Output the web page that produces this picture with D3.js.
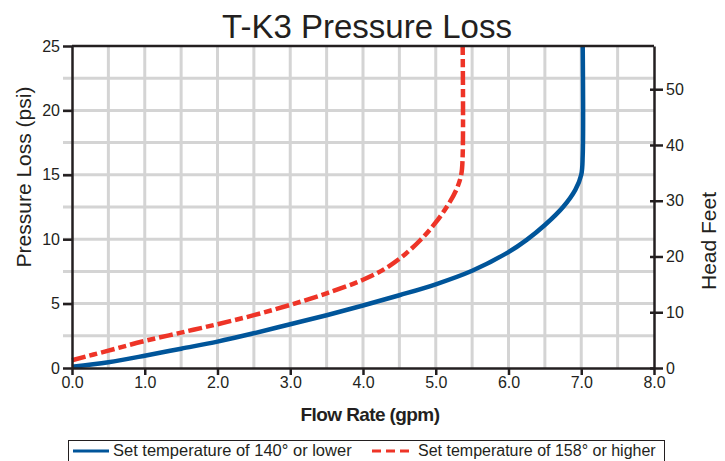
<!DOCTYPE html>
<html>
<head>
<meta charset="utf-8">
<script src="https://cdn.jsdelivr.net/npm/d3@7"></script>
<style>
  body { margin: 0; background: #fff; }
  svg { display: block; font-family: "Liberation Sans", Arial, sans-serif; }
</style>
</head>
<body>
<svg id="chart" width="725" height="461"></svg>
<script>
// flow rate (gpm) vs pressure loss (psi)
const flowBlue = [0, 0.5, 1.0, 1.5, 2.0, 2.5, 3.0, 3.5, 4.0, 4.5, 5.0, 5.5, 6.0, 6.25, 6.5, 6.75, 6.92, 7.0, 7.02, 7.02];
const psiBlue  = [0.1, 0.45, 0.95, 1.5, 2.05, 2.7, 3.4, 4.1, 4.85, 5.65, 6.5, 7.55, 9.0, 9.95, 11.1, 12.5, 13.85, 15.0, 16.5, 25];

const flowRed = [0, 0.5, 1.0, 1.5, 2.0, 2.5, 3.0, 3.5, 4.0, 4.3, 4.55, 4.8, 5.0, 5.15, 5.28, 5.35, 5.37, 5.37];
const psiRed  = [0.6, 1.35, 2.1, 2.75, 3.4, 4.1, 4.9, 5.8, 6.85, 7.7, 8.7, 10.0, 11.3, 12.5, 13.8, 15.0, 16.5, 25];

const xTicks = [0, 1, 2, 3, 4, 5, 6, 7, 8];
const psiTicks = [0, 5, 10, 15, 20, 25];
const feetTicks = [0, 10, 20, 30, 40, 50];
const FEET_PER_PSI = 2.31;

const legendLabels = ["Set temperature of 140° or lower", "Set temperature of 158° or higher"];

const blue = "#00559a", red = "#ee3427", axisColor = "#231f20", gridColor = "#d4d4d4";

const svg = d3.select("#chart");
const m = { left: 72, right: 654, top: 46, bottom: 368 };

const x = d3.scaleLinear().domain([0, 8]).range([m.left, m.right]);
const y = d3.scaleLinear().domain([0, 25]).range([m.bottom, m.top]);
const yFeet = d3.scaleLinear().domain([0, 25 * FEET_PER_PSI]).range([m.bottom, m.top]);

// grid
const grid = svg.append("g").attr("stroke", gridColor).attr("stroke-width", 3);
grid.selectAll("line.v")
  .data(d3.range(0.5, 8, 0.5))
  .enter().append("line")
  .attr("x1", d => x(d)).attr("x2", d => x(d))
  .attr("y1", m.top).attr("y2", m.bottom);
grid.selectAll("line.h")
  .data(d3.range(2.5, 25, 2.5))
  .enter().append("line")
  .attr("x1", m.left - 9).attr("x2", m.right)
  .attr("y1", d => y(d)).attr("y2", d => y(d));

// curves
const line = d3.line()
  .x(d => x(d[0]))
  .y(d => y(d[1]))
  .curve(d3.curveCatmullRom.alpha(0.5));

svg.append("path")
  .datum(flowRed.map((f, i) => [f, psiRed[i]]))
  .attr("d", line)
  .attr("fill", "none")
  .attr("stroke", red)
  .attr("stroke-width", 4.5)
  .attr("stroke-dasharray", "14,4,8,4");

svg.append("path")
  .datum(flowBlue.map((f, i) => [f, psiBlue[i]]))
  .attr("d", line)
  .attr("fill", "none")
  .attr("stroke", blue)
  .attr("stroke-width", 4.5);

// frame top
svg.append("line")
  .attr("x1", m.left).attr("x2", m.right)
  .attr("y1", m.top).attr("y2", m.top)
  .attr("stroke", axisColor).attr("stroke-width", 2.5);

function styleAxis(g) {
  g.select(".domain").attr("stroke", axisColor).attr("stroke-width", 2.5);
  g.selectAll(".tick line").attr("stroke", axisColor).attr("stroke-width", 2.5);
  g.selectAll(".tick text")
    .attr("fill", "#231f20")
    .style("font-size", "16px")
    .style("font-family", "'Liberation Sans', Arial, sans-serif");
}

// bottom axis
svg.append("g")
  .attr("transform", `translate(0,${m.bottom})`)
  .call(d3.axisBottom(x).tickValues(xTicks).tickFormat(d3.format(".1f")).tickSize(7).tickSizeOuter(0).tickPadding(2))
  .call(styleAxis);

// left axis
svg.append("g")
  .attr("transform", `translate(${m.left},0)`)
  .call(d3.axisLeft(y).tickValues(psiTicks).tickSize(9).tickSizeOuter(0).tickPadding(3))
  .call(styleAxis);

// right axis (head feet)
const right = svg.append("g")
  .attr("transform", `translate(${m.right},0)`)
  .call(d3.axisRight(yFeet).tickValues(feetTicks).tickSize(9).tickSizeOuter(0).tickPadding(3))
  .call(styleAxis);
right.selectAll(".tick line").attr("x1", -4);

// titles
svg.append("text")
  .attr("x", 367).attr("y", 38)
  .attr("text-anchor", "middle")
  .style("font-size", "33px")
  .attr("fill", "#231f20")
  .text("T-K3 Pressure Loss");

svg.append("text")
  .attr("transform", "translate(31,177) rotate(-90)")
  .attr("text-anchor", "middle")
  .style("font-size", "21px")
  .attr("fill", "#231f20")
  .text("Pressure Loss (psi)");

svg.append("text")
  .attr("transform", "translate(716,241) rotate(-90)")
  .attr("text-anchor", "middle")
  .style("font-size", "21px")
  .attr("fill", "#231f20")
  .text("Head Feet");

svg.append("text")
  .attr("x", 370).attr("y", 421)
  .attr("text-anchor", "middle")
  .style("font-size", "19px")
  .style("font-weight", "bold")
  .style("letter-spacing", "-0.6px")
  .attr("fill", "#231f20")
  .text("Flow Rate (gpm)");

// legend
const legend = svg.append("g");
legend.append("rect")
  .attr("x", 68.5).attr("y", 440.5)
  .attr("width", 596).attr("height", 30)
  .attr("fill", "#fff")
  .attr("stroke", axisColor).attr("stroke-width", 1);

const items = [
  { label: legendLabels[0], color: blue, dash: null, x0: 73, x1: 109, tx: 113, size: "16.5px" },
  { label: legendLabels[1], color: red, dash: "9,5", x0: 372, x1: 414, tx: 418, size: "16px" }
];
items.forEach(it => {
  legend.append("line")
    .attr("x1", it.x0).attr("x2", it.x1)
    .attr("y1", 451).attr("y2", 451)
    .attr("stroke", it.color).attr("stroke-width", 3)
    .attr("stroke-dasharray", it.dash);
  legend.append("text")
    .attr("x", it.tx).attr("y", 456)
    .style("font-size", it.size)
    .attr("fill", "#231f20")
    .text(it.label);
});
</script>
</body>
</html>
